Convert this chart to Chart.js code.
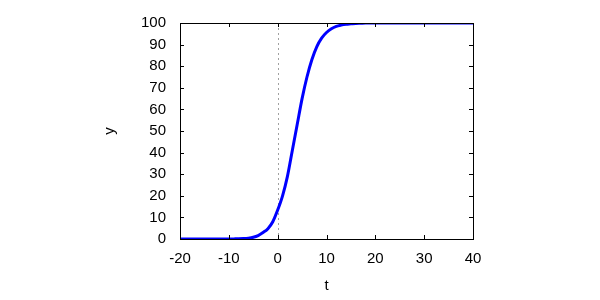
<!DOCTYPE html>
<html>
<head>
<meta charset="utf-8">
<script src="https://cdn.jsdelivr.net/npm/chart.js@4"></script>
<style>
  html, body { margin: 0; padding: 0; background: #fff; }
  #wrap { width: 600px; height: 300px; }
</style>
</head>
<body>
<div id="wrap"><canvas id="chart" width="600" height="300"></canvas></div>
<script>
// values
const tValues = [-20, -15, -10, -9, -8, -7, -6, -5, -4, -3, -2, -1, 0, 1, 2, 3, 4, 5, 6, 7, 8, 9, 10, 11, 12, 13, 14, 15, 16, 17, 18, 20, 25, 30, 35, 40];
const yValues = [0, 0, 0, 0.05, 0.1, 0.2, 0.4, 0.8, 1.6, 3.0, 4.8, 8.0, 13.4, 20, 29, 41, 53, 65, 75, 83, 89, 93, 95.6, 97.3, 98.4, 99.0, 99.4, 99.6, 99.8, 99.9, 100, 100, 100, 100, 100, 100];
const xTicks = [-20, -10, 0, 10, 20, 30, 40];
const yTicks = [0, 10, 20, 30, 40, 50, 60, 70, 80, 90, 100];

const font = { family: "'Liberation Sans', Arial, sans-serif", size: 15 };

// frame, inward ticks and the dotted line at t = 0
const gnuplotFrame = {
    id: 'gnuplotFrame',
    beforeDatasetsDraw(chart) {
        const { ctx, chartArea: a, scales: { x } } = chart;
        ctx.save();
        ctx.strokeStyle = '#a0a0a0';
        ctx.lineWidth = 1;
        ctx.setLineDash([2, 3]);
        const x0 = Math.round(x.getPixelForValue(0)) + 0.5;
        ctx.beginPath();
        ctx.moveTo(x0, a.top);
        ctx.lineTo(x0, a.bottom);
        ctx.stroke();
        ctx.restore();
    },
    afterDatasetsDraw(chart) {
        const { ctx, chartArea: a, scales: { x, y } } = chart;
        ctx.save();
        ctx.strokeStyle = '#000';
        ctx.lineWidth = 1;
        ctx.beginPath();
        xTicks.forEach(v => {
            const px = Math.round(x.getPixelForValue(v)) + 0.5;
            ctx.moveTo(px, a.bottom); ctx.lineTo(px, a.bottom - 4);
            ctx.moveTo(px, a.top); ctx.lineTo(px, a.top + 4);
        });
        yTicks.forEach(v => {
            const py = Math.round(y.getPixelForValue(v)) + 0.5;
            ctx.moveTo(a.left, py); ctx.lineTo(a.left + 4, py);
            ctx.moveTo(a.right, py); ctx.lineTo(a.right - 4, py);
        });
        ctx.stroke();
        ctx.strokeRect(Math.round(a.left) + 0.5, Math.round(a.top) + 0.5,
            Math.round(a.right - a.left), Math.round(a.bottom - a.top));
        ctx.restore();
    }
};

new Chart(document.getElementById('chart').getContext('2d'), {
    type: 'line',
    data: {
        datasets: [{
            data: tValues.map((t, i) => ({ x: t, y: yValues[i] })),
            borderColor: '#0000ff',
            borderWidth: 3,
            pointRadius: 0,
            cubicInterpolationMode: 'monotone',
            fill: false
        }]
    },
    options: {
        responsive: false,
        animation: false,
        layout: { padding: { left: 100, right: 127, top: 20, bottom: 4 } },
        plugins: { legend: { display: false }, tooltip: { enabled: false } },
        scales: {
            x: {
                type: 'linear',
                min: -20, max: 40,
                afterBuildTicks: s => { s.ticks = xTicks.map(v => ({ value: v })); },
                afterFit: s => { s.height = 57; },
                grid: { display: false, drawTicks: false },
                border: { display: false },
                ticks: { color: '#000', font, padding: 11, maxRotation: 0 },
                title: { display: true, text: 't', color: '#000', font, padding: { top: 0, bottom: 1 } }
            },
            y: {
                min: 0, max: 100,
                afterBuildTicks: s => { s.ticks = yTicks.map(v => ({ value: v })); },
                afterFit: s => { s.width = 80; },
                grid: { display: false, drawTicks: false },
                border: { display: false },
                ticks: { color: '#000', font, padding: 14 },
                title: { display: true, text: 'y', color: '#000', font, padding: { top: 1, bottom: 0 } }
            }
        }
    },
    plugins: [gnuplotFrame]
});
</script>
</body>
</html>
